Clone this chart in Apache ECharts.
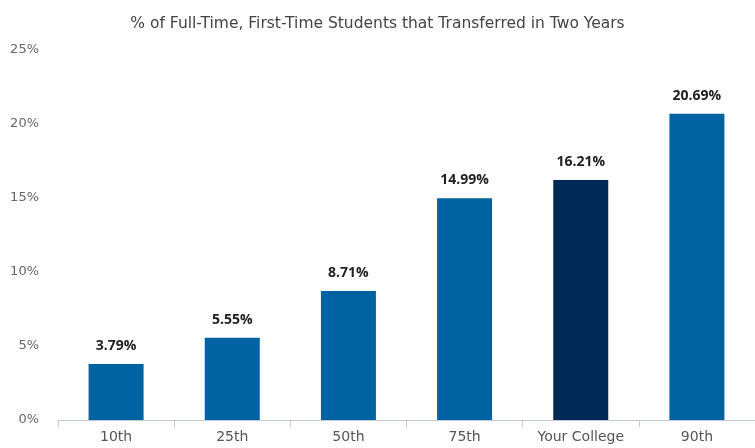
<!DOCTYPE html>
<html>
<head>
<meta charset="utf-8">
<script src="https://cdn.jsdelivr.net/npm/echarts@6/dist/echarts.min.js"></script>
<style>
  html, body { margin: 0; padding: 0; background: #fff; }
  #chart { width: 755px; height: 448px; }
</style>
</head>
<body>
<div id="chart"></div>
<script>
  const categories = ['10th', '25th', '50th', '75th', 'Your College', '90th'];
  const values = [3.79, 5.55, 8.71, 14.99, 16.21, 20.69];
  const highlight = 'Your College';

  const chart = echarts.init(document.getElementById('chart'));
  const option = {
    animation: false,
    title: {
      text: '% of Full-Time, First-Time Students that Transferred in Two Years',
      left: 'center',
      top: 11,
      textStyle: {
        fontFamily: 'DejaVu Sans',
        fontSize: 15.5,
        fontWeight: 'normal',
        color: '#444'
      }
    },
    grid: {
      top: 50,
      left: 58,
      right: -2,
      bottom: 28
    },
    xAxis: {
      type: 'category',
      data: categories,
      axisLine: { lineStyle: { color: '#c3cad6', width: 1 } },
      axisTick: { show: true, length: 7, lineStyle: { color: '#c3cad6' } },
      axisLabel: {
        fontFamily: 'DejaVu Sans',
        fontSize: 14,
        color: '#555',
        margin: 10
      }
    },
    yAxis: {
      type: 'value',
      min: 0,
      max: 25,
      interval: 5,
      splitLine: { show: false },
      axisLine: { show: false },
      axisTick: { show: false },
      axisLabel: {
        formatter: '{value}%',
        fontFamily: 'DejaVu Sans',
        fontSize: 13,
        color: '#666',
        margin: 19,
        padding: [0, 0, 4, 0]
      }
    },
    series: [
      {
        type: 'bar',
        barWidth: 55,
        data: values.map((v, i) => ({
          value: v,
          itemStyle: { color: categories[i] === highlight ? '#002a55' : '#0063a1' }
        })),
        label: {
          show: true,
          position: 'top',
          distance: 11,
          formatter: p => p.value.toFixed(2) + '%',
          fontFamily: 'Open Sans',
          fontWeight: 'bold',
          fontSize: 14,
          color: '#222'
        }
      }
    ]
  };
  chart.setOption(option);
</script>
</body>
</html>
